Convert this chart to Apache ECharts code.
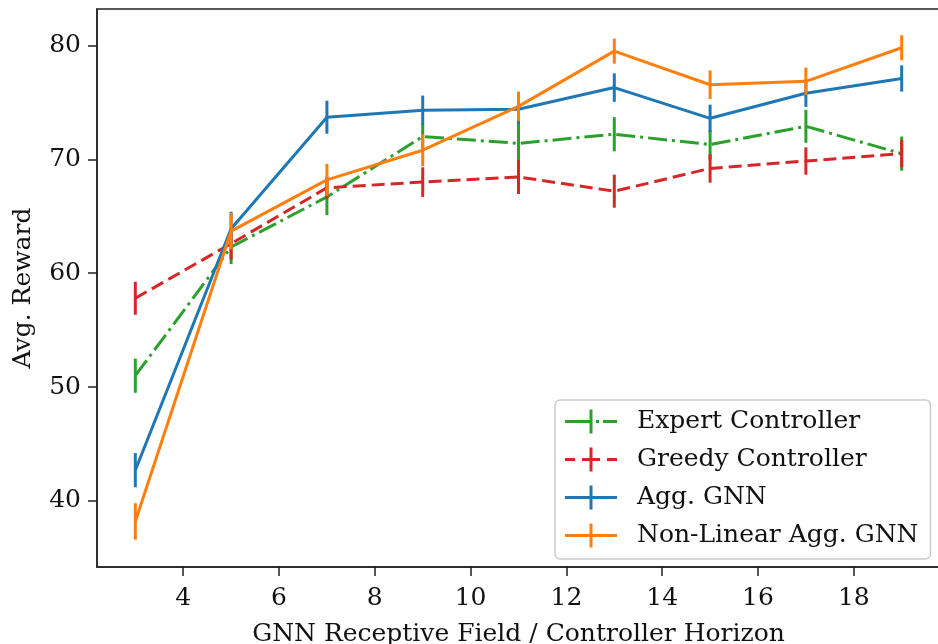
<!DOCTYPE html>
<html>
<head>
<meta charset="utf-8">
<title>Avg. Reward vs Receptive Field</title>
<script src="https://cdn.jsdelivr.net/npm/echarts@6/dist/echarts.min.js"></script>
<style>
  html, body { margin: 0; padding: 0; background: #fff; }
  #chart { width: 938px; height: 644px; }
</style>
</head>
<body>
<div id="chart"></div>
<script>
// receptive field / horizon values
const xValues = [3, 5, 7, 9, 11, 13, 15, 17, 19]
const xTicks = [4, 6, 8, 10, 12, 14, 16, 18]
const yTicks = [40, 50, 60, 70, 80]

// mean reward and error (half bar length) per series
const expertMean = [51.0, 62.3, 66.7, 72.0, 71.4, 72.2, 71.3, 72.9, 70.5]
const expertErr = [1.5, 1.5, 1.6, 1.1, 1.7, 1.5, 1.3, 1.45, 1.5]
const greedyMean = [57.8, 62.6, 67.5, 68.0, 68.45, 67.2, 69.2, 69.85, 70.5]
const greedyErr = [1.45, 1.4, 1.0, 1.3, 1.5, 1.45, 1.25, 1.2, 1.2]
const aggMean = [42.7, 63.9, 73.7, 74.3, 74.4, 76.3, 73.6, 75.8, 77.1]
const aggErr = [1.5, 1.5, 1.45, 1.3, 1.3, 1.25, 1.2, 1.2, 1.15]
const nonlinMean = [38.2, 63.7, 68.2, 70.8, 74.65, 79.5, 76.55, 76.85, 79.8]
const nonlinErr = [1.6, 1.6, 1.4, 1.4, 1.3, 1.1, 1.25, 1.2, 1.1]

const FONT = 'DejaVu Serif'
const FS = 25

// legend handles (line + error bar), 52 x 24 box
const ICON_SOLID = 'path://M0,10.5h52v3h-52z M24.5,0h3v24h-3z'
const ICON_DASH = 'path://M0,10.5h10v3h-10z M17,10.5h18v3h-18z M24.5,0h3v24h-3z M42,10.5h10v3h-10z'
const ICON_DASHDOT = 'path://M0,10.5h26v3h-26z M24.5,0h3v24h-3z M31,10.5h3v3h-3z M38,10.5h14v3h-14z'

const seriesDefs = [
  { name: 'Expert Controller', mean: expertMean, err: expertErr, color: '#2ca02c', dash: [19, 5, 3, 5], icon: ICON_DASHDOT },
  { name: 'Greedy Controller', mean: greedyMean, err: greedyErr, color: '#d62728', dash: [13, 6], icon: ICON_DASH },
  { name: 'Agg. GNN', mean: aggMean, err: aggErr, color: '#1f77b4', dash: 'solid', icon: ICON_SOLID },
  { name: 'Non-Linear Agg. GNN', mean: nonlinMean, err: nonlinErr, color: '#ff7f0e', dash: 'solid', icon: ICON_SOLID },
]

function errorBarSeries(def, z) {
  return {
    name: def.name,
    type: 'custom',
    z: z,
    silent: true,
    data: xValues.map((x, i) => [x, def.mean[i] - def.err[i], def.mean[i] + def.err[i]]),
    encode: { x: 0, y: [1, 2] },
    renderItem: function (params, api) {
      const p1 = api.coord([api.value(0), api.value(1)])
      const p2 = api.coord([api.value(0), api.value(2)])
      return {
        type: 'line',
        shape: { x1: p1[0], y1: p1[1], x2: p2[0], y2: p2[1] },
        style: { stroke: def.color, lineWidth: 3 },
      }
    },
  }
}

const series = []
seriesDefs.forEach((def, k) => {
  series.push({
    name: def.name,
    type: 'line',
    z: 2 + k * 2,
    data: xValues.map((x, i) => [x, def.mean[i]]),
    symbol: 'none',
    lineStyle: { color: def.color, width: 3, type: def.dash },
    itemStyle: { color: def.color },
    animation: false,
  })
  series.push(errorBarSeries(def, 3 + k * 2))
})

const chart = echarts.init(document.getElementById('chart'))

chart.setOption({
  animation: false,
  textStyle: { fontFamily: FONT },
  grid: {
    left: 97,
    top: 9,
    width: 843,
    height: 558,
    outerBoundsMode: 'none',
    show: true,
    borderColor: '#222',
    borderWidth: 1.5,
    backgroundColor: 'transparent',
  },
  legend: {
    orient: 'vertical',
    left: 555,
    top: 400,
    padding: [9, 12, 11, 10],
    itemGap: 13,
    itemWidth: 52,
    itemHeight: 24,
    selectedMode: false,
    backgroundColor: 'rgba(255,255,255,0.85)',
    borderColor: '#cccccc',
    borderWidth: 1.5,
    borderRadius: 5,
    textStyle: { fontFamily: FONT, fontSize: FS, color: '#111', lineHeight: 24, padding: [0, 0, 0, 15] },
    data: seriesDefs.map(d => ({ name: d.name, icon: d.icon, itemStyle: { color: d.color } })),
  },
  xAxis: {
    type: 'value',
    min: 2.2,
    max: 19.8,
    name: 'GNN Receptive Field / Controller Horizon',
    nameLocation: 'middle',
    nameGap: 55,
    nameTextStyle: { fontFamily: FONT, fontSize: FS, color: '#111' },
    axisLine: { show: true, lineStyle: { color: '#222', width: 1.5 } },
    axisTick: { show: true, inside: false, length: 9, customValues: xTicks, lineStyle: { color: '#222', width: 1.5 } },
    axisLabel: { customValues: xTicks, fontFamily: FONT, fontSize: FS, color: '#111', margin: 19 },
    splitLine: { show: false },
  },
  yAxis: {
    type: 'value',
    min: 34.2,
    max: 83.2,
    name: 'Avg. Reward',
    nameLocation: 'middle',
    nameGap: 61,
    nameTextStyle: { fontFamily: FONT, fontSize: FS, color: '#111' },
    axisLine: { show: true, lineStyle: { color: '#222', width: 1.5 } },
    axisTick: { show: true, inside: false, length: 9, customValues: yTicks, lineStyle: { color: '#222', width: 1.5 } },
    axisLabel: { customValues: yTicks, fontFamily: FONT, fontSize: FS, color: '#111', margin: 16 },
    splitLine: { show: false },
  },
  series: series,
})
</script>
</body>
</html>
